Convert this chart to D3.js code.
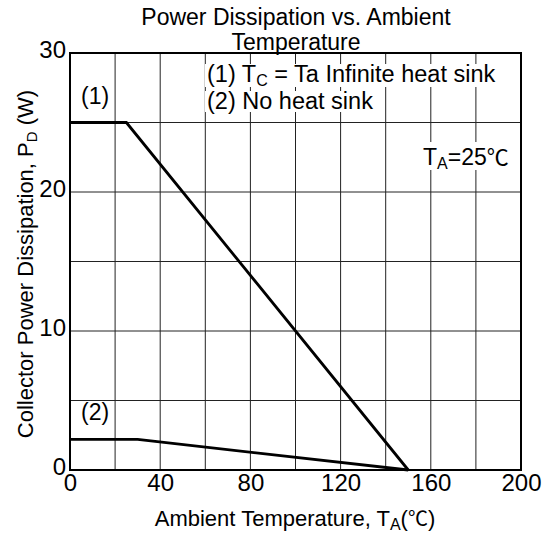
<!DOCTYPE html>
<html><head><meta charset="utf-8">
<script src="https://cdn.jsdelivr.net/npm/d3@7/dist/d3.min.js"></script>
<style>body{margin:0;background:#fff}svg text{font-family:"Liberation Sans",Arial,sans-serif;fill:#000}</style>
</head><body>
<script>
const temps1 = [0, 25, 150];
const pd1 = [25, 25, 0];
const temps2 = [0, 30, 150];
const pd2 = [2.2, 2.2, 0];
const xTicks = [0, 40, 80, 120, 160, 200];
const yTicks = [0, 10, 20, 30];
const xGrid = d3.range(0, 201, 20);
const yGrid = d3.range(0, 31, 5);

const W = 546, H = 534;
const FONT = "Liberation Sans, Arial, sans-serif";
const CJK = "'Noto Sans CJK JP', 'Noto Sans CJK SC', sans-serif";
const svg = d3.select("body").append("svg").attr("width", W).attr("height", H);
const x = d3.scaleLinear().domain([0, 200]).range([70, 521]);
const y = d3.scaleLinear().domain([0, 30]).range([470, 53]);

// grid
svg.append("g").selectAll("line").data(xGrid).join("line")
  .attr("x1", d => x(d)).attr("x2", d => x(d)).attr("y1", y(0)).attr("y2", y(30))
  .attr("stroke", "#222").attr("stroke-width", 1);
svg.append("g").selectAll("line").data(yGrid).join("line")
  .attr("y1", d => y(d)).attr("y2", d => y(d)).attr("x1", x(0)).attr("x2", x(200))
  .attr("stroke", "#222").attr("stroke-width", 1);

// labels with white backgrounds
function bgText(tx, ty, build, size) {
  const g = svg.append("g");
  const t = g.append("text").attr("x", tx).attr("y", ty).attr("font-size", size);
  build(t);
  const b = t.node().getBBox();
  g.insert("rect", "text").attr("x", b.x - 2).attr("y", b.y + 3).attr("width", b.width + 4).attr("height", b.height - 5).attr("fill", "#fff");
  return g;
}
bgText(207, 82, t => {
  t.append("tspan").text("(1) T");
  t.append("tspan").attr("font-size", 16).attr("dy", 4).text("C");
  t.append("tspan").attr("dy", -4).text(" = Ta Infinite heat sink");
}, 23.5);
bgText(207, 109, t => t.text("(2) No heat sink"), 23.5);
bgText(423, 165, t => {
  t.append("tspan").text("T");
  t.append("tspan").attr("font-size", 16).attr("dy", 4).text("A");
  t.append("tspan").attr("dy", -4).text("=25");
  t.append("tspan").style("font-family", CJK).attr("font-size", 22).text("℃");
}, 23);

// border
svg.append("rect").attr("x", x(0)).attr("y", y(30)).attr("width", x(200) - x(0)).attr("height", y(0) - y(30))
  .attr("fill", "none").attr("stroke", "#000").attr("stroke-width", 2);

// data lines
const line = d3.line().x(d => x(d[0])).y(d => y(d[1]));
svg.append("path").datum(d3.zip(temps1, pd1)).attr("d", line)
  .attr("fill", "none").attr("stroke", "#000").attr("stroke-width", 2.8);
svg.append("path").datum(d3.zip(temps2, pd2)).attr("d", line)
  .attr("fill", "none").attr("stroke", "#000").attr("stroke-width", 2.8);

svg.append("text").attr("x", 81).attr("y", 104).attr("font-size", 23).text("(1)");
svg.append("text").attr("x", 81).attr("y", 420).attr("font-size", 23).text("(2)");

// axes
const xa = svg.append("g").attr("transform", `translate(0,${y(0)})`)
  .call(d3.axisBottom(x).tickValues(xTicks).tickSize(0).tickPadding(4));
xa.select(".domain").remove();
xa.selectAll("text").attr("font-size", 24).attr("font-family", FONT);
const ya = svg.append("g").attr("transform", `translate(${x(0)},0)`)
  .call(d3.axisLeft(y).tickValues(yTicks).tickSize(0).tickPadding(4));
ya.select(".domain").remove();
ya.selectAll("text").attr("font-size", 24).attr("font-family", FONT).attr("dy", "0.2em");

// titles
svg.append("text").attr("x", 296).attr("y", 25).attr("text-anchor", "middle").attr("font-size", 23).text("Power Dissipation vs. Ambient");
svg.append("text").attr("x", 296).attr("y", 50).attr("text-anchor", "middle").attr("font-size", 23).text("Temperature");

const xt = svg.append("text").attr("x", 295).attr("y", 526).attr("text-anchor", "middle").attr("font-size", 22);
xt.append("tspan").text("Ambient Temperature, T");
xt.append("tspan").attr("font-size", 16).attr("dy", 4).text("A");
xt.append("tspan").attr("dy", -4).text("(");
xt.append("tspan").style("font-family", CJK).attr("font-size", 20).text("℃");
xt.append("tspan").text(")");

const yt = svg.append("text").attr("transform", "translate(33,264) rotate(-90)").attr("text-anchor", "middle").attr("font-size", 22);
yt.append("tspan").text("Collector Power Dissipation, P");
yt.append("tspan").attr("font-size", 15).attr("dy", 4).text("D");
yt.append("tspan").attr("dy", -4).text(" (W)");
</script>
</body></html>
